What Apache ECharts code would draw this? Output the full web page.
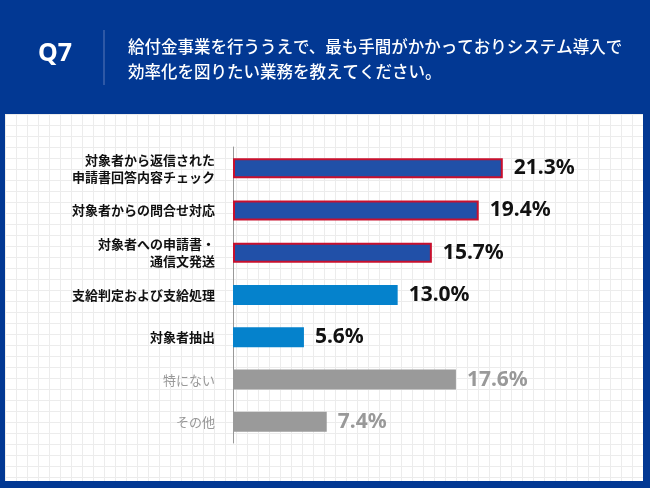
<!DOCTYPE html>
<html>
<head>
<meta charset="utf-8">
<script src="https://cdn.jsdelivr.net/npm/echarts@6/dist/echarts.min.js"></script>
<style>
  html, body { margin: 0; padding: 0; background: #023893; }
  #wrap { position: relative; width: 650px; height: 488px; }
  #paper {
    position: absolute; left: 5px; top: 114px; width: 638px; height: 367px;
    background-color: #fff;
    background-image:
      linear-gradient(to right, #ececec 1px, transparent 1px),
      linear-gradient(to bottom, #ececec 1px, transparent 1px);
    background-size: 11px 11px;
  }
  #chart { position: absolute; left: 0; top: 0; width: 650px; height: 488px; }
</style>
</head>
<body>
<div id="wrap">
  <div id="paper"></div>
  <div id="chart"></div>
</div>
<script>
  // 回答項目（上から順）
  var categories = [
    "対象者から返信された\n申請書回答内容チェック",
    "対象者からの問合せ対応",
    "対象者への申請書・\n通信文発送",
    "支給判定および支給処理",
    "対象者抽出",
    "特にない",
    "その他"
  ];
  var values = [21.3, 19.4, 15.7, 13.0, 5.6, 17.6, 7.4];
  // 0: 上位3項目, 1: その他の業務, 2: 特にない/その他
  var groups = [0, 0, 0, 1, 1, 2, 2];

  var fillColors = ["#2150a8", "#0582cc", "#9a9a9a"];
  var textColors = ["#111", "#111", "#999"];

  var chart = echarts.init(document.getElementById("chart"));

  var seriesData = values.map(function(v, i) {
    var g = groups[i];
    return {
      value: v,
      itemStyle: {
        color: fillColors[g],
        borderColor: g === 0 ? "#c8102e" : fillColors[g],
        borderWidth: g === 0 ? 2 : 0
      },
      label: { color: textColors[g] }
    };
  });

  var option = {
    backgroundColor: "transparent",
    animation: false,
    graphic: [
      {
        type: "text", left: 38, top: 41,
        style: { text: "Q7", fill: "#fff", font: "bold 25px 'Noto Sans', sans-serif" }
      },
      {
        type: "line",
        shape: { x1: 104, y1: 30, x2: 104, y2: 85 },
        style: { stroke: "#5a78b8", lineWidth: 1 }
      },
      {
        type: "text", left: 128, top: 34,
        style: {
          text: "給付金事業を行ううえで、最も手間がかかっておりシステム導入で\n効率化を図りたい業務を教えてください。",
          fill: "#fff",
          font: "500 16.5px 'Noto Sans CJK JP', sans-serif",
          lineHeight: 25
        }
      }
    ],
    grid: { left: 233, top: 147, width: 380, height: 296 },
    xAxis: {
      type: "value", min: 0, max: 30,
      show: false
    },
    yAxis: {
      type: "category",
      inverse: true,
      data: categories,
      axisLine: { show: true, lineStyle: { color: "#999", width: 1 } },
      axisTick: { show: false },
      axisLabel: {
        margin: 18,
        formatter: function(val, idx) {
          return groups[idx] === 2 ? "{g|" + val + "}" : "{b|" + val.split("\n").join("}\n{b|") + "}";
        },
        rich: {
          b: { color: "#111", fontWeight: "bold", fontSize: 13, fontFamily: "Noto Sans CJK JP", lineHeight: 17 },
          g: { color: "#999", fontWeight: "normal", fontSize: 13, fontFamily: "Noto Sans CJK JP" }
        }
      }
    },
    series: [
      {
        type: "bar",
        data: seriesData,
        barWidth: 20,
        label: {
          show: true,
          position: "right",
          distance: 11,
          fontFamily: "Noto Sans",
          fontWeight: "bold",
          fontSize: 21,
          formatter: function(p) { return p.value.toFixed(1) + "%"; }
        }
      }
    ]
  };

  chart.setOption(option);
</script>
</body>
</html>
